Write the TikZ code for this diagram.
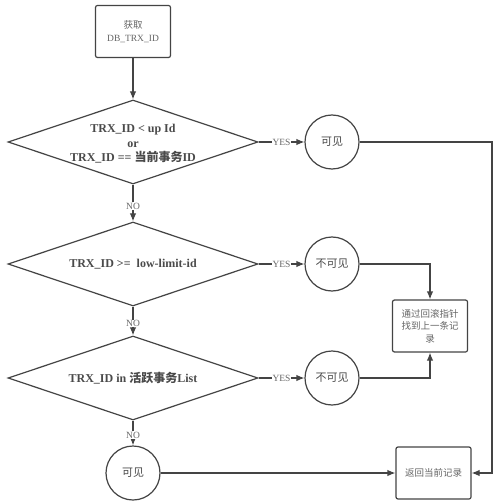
\documentclass[tikz,border=0pt]{standalone}
\usepackage{fontspec}
\setmainfont{Liberation Serif}
\newfontfamily\cjk{Noto Sans CJK SC}
\usetikzlibrary{shapes.geometric,arrows.meta}
\definecolor{ln}{HTML}{444444}
\definecolor{tx}{HTML}{4a4a4a}
\definecolor{tl}{HTML}{666666}
\begin{document}
\begin{tikzpicture}[x=1pt,y=-1pt,
  flow/.style={draw=ln, line width=1.2pt, -{Latex[length=8pt,width=6.5pt]}},
  box/.style={draw=ln, line width=1.2pt, rounded corners=2pt, minimum width=75pt, minimum height=52pt, align=center, font=\fontsize{9.5}{12.5}\selectfont, text=tl, inner sep=2pt},
  dia/.style={diamond, draw=ln, line width=1.2pt, minimum width=250pt, minimum height=84pt, inner sep=0pt},
  dtext/.style={font=\fontsize{12}{14.5}\selectfont\bfseries, text=tx, align=center, inner sep=0pt},
  circ/.style={circle, draw=ln, line width=1.2pt, minimum size=54pt, inner sep=0pt, font=\fontsize{11}{13}\selectfont\cjk, text=tx},
  lab/.style={font=\fontsize{9.5}{10}\selectfont, text=tl, fill=white, inner sep=0.6pt}
]
\useasboundingbox (0,0) rectangle (500,502);
\fill[white] (0,0) rectangle (500,502);

\node[box] (b1) at (133,31.5) {{\cjk 获取}\\DB\_TRX\_ID};

\node[dia] (d1) at (133,142) {};
\node[dtext] (t1) at (133,144) {TRX\_ID {\textless} up Id\\or\\TRX\_ID == {\cjk\bfseries 当前事务}ID};
\node[dia] (d2) at (133,264) {};
\node[dtext] (t2) at (133,264) {TRX\_ID {\textgreater}= \ low-limit-id};
\node[dia] (d3) at (133,378) {};
\node[dtext] (t3) at (133,378) {TRX\_ID in {\cjk\bfseries 活跃事务}List};

\node[circ] (c1) at (332,142) {可见};
\node[circ] (c2) at (332,264) {不可见};
\node[circ] (c3) at (332,378) {不可见};
\node[circ] (c4) at (133,473) {可见};

\node[box, font=\fontsize{9.5}{12.5}\selectfont\cjk] (rb) at (430,326) {通过回滚指针\\找到上一条记\\录};
\node[box, font=\fontsize{9.5}{12.5}\selectfont\cjk] (ret) at (433.5,473) {返回当前记录};

\coordinate (rc) at (492,473);

\draw[flow] (b1.south) -- (d1.north);
\draw[flow] (d1.east) -- node[lab]{YES} (c1.west);
\draw[flow] (d2.east) -- node[lab]{YES} (c2.west);
\draw[flow] (d3.east) -- node[lab]{YES} (c3.west);
\draw[flow] (d1.south) -- node[lab,pos=0.58]{NO} (d2.north);
\draw[flow] (d2.south) -- node[lab,pos=0.58]{NO} (d3.north);
\draw[flow] (d3.south) -- node[lab,pos=0.58]{NO} (c4.north);
\draw[flow] (c2.east) -| (rb.north);
\draw[flow] (c3.east) -| (rb.south);
\draw[flow] (c1.east) -| (rc) -- (ret.east);
\draw[flow] (c4.east) -- (ret.west);
\end{tikzpicture}
\end{document}
